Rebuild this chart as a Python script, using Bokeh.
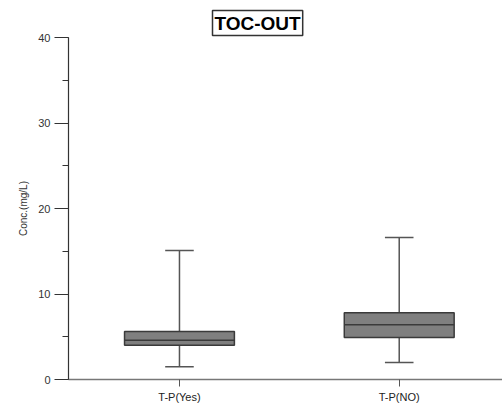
from bokeh.plotting import figure
from bokeh.models import Range1d, FixedTicker, SingleIntervalTicker
from bokeh.embed import file_html
from bokeh.resources import INLINE

categories = ["T-P(Yes)", "T-P(NO)"]
positions = [1, 2]
whisker_low = [1.5, 2.0]
q1 = [4.0, 4.9]
median = [4.6, 6.4]
q3 = [5.6, 7.8]
whisker_high = [15.1, 16.6]

box_w = 0.5
cap_w = 0.13

p = figure(width=502, height=405, output_backend="svg", toolbar_location=None,
           x_range=Range1d(0.495, 2.47), y_range=Range1d(0, 40),
           min_border_left=68, min_border_right=0, min_border_top=37, min_border_bottom=25)
p.xgrid.visible = False
p.ygrid.visible = False
p.outline_line_color = None
p.background_fill_color = "white"

p.title.text = "TOC-OUT"
p.title.align = "left"
p.title.offset = 144
p.title.text_font = "Liberation Sans"
p.title.text_font_style = "bold"
p.title.text_font_size = "19px"
p.title.text_color = "black"
p.title.border_line_color = "#333333"
p.title.border_line_width = 1.5
p.title.padding = 2
p.title.standoff = 4

# whiskers
p.segment(x0=positions, y0=q3, x1=positions, y1=whisker_high, line_color="#555555", line_width=1.5)
p.segment(x0=positions, y0=whisker_low, x1=positions, y1=q1, line_color="#555555", line_width=1.5)
# caps
p.segment(x0=[x - cap_w / 2 for x in positions], y0=whisker_high,
          x1=[x + cap_w / 2 for x in positions], y1=whisker_high, line_color="#555555", line_width=1.5)
p.segment(x0=[x - cap_w / 2 for x in positions], y0=whisker_low,
          x1=[x + cap_w / 2 for x in positions], y1=whisker_low, line_color="#555555", line_width=1.5)
# boxes
p.vbar(x=positions, width=box_w, bottom=q1, top=q3, fill_color="#7f7f7f",
       line_color="#3a3a3a", line_width=1.5)
# medians
p.segment(x0=[x - box_w / 2 for x in positions], y0=median,
          x1=[x + box_w / 2 for x in positions], y1=median, line_color="#3a3a3a", line_width=1.5)

# axes
p.xaxis.ticker = FixedTicker(ticks=positions)
p.xaxis.major_label_overrides = {pos: c for pos, c in zip(positions, categories)}
p.xaxis.minor_tick_line_color = None
p.xaxis.major_tick_in = 0
p.xaxis.major_tick_out = 7
p.xaxis.axis_line_color = "#777777"
p.xaxis.major_tick_line_color = "#555555"
p.xaxis.axis_line_width = 1.5
p.xaxis.major_label_text_font = "Liberation Sans"
p.xaxis.major_label_text_font_size = "11px"
p.xaxis.major_label_text_color = "#222222"
p.xaxis.major_label_standoff = 4

p.yaxis.ticker = SingleIntervalTicker(interval=10, num_minor_ticks=2)
p.yaxis.major_tick_in = 0
p.yaxis.major_tick_out = 14
p.yaxis.minor_tick_in = 0
p.yaxis.minor_tick_out = 6
p.yaxis.axis_line_color = "#333333"
p.yaxis.major_tick_line_color = "#333333"
p.yaxis.minor_tick_line_color = "#333333"
p.yaxis.axis_line_width = 1.2
p.yaxis.major_label_text_font = "Liberation Sans"
p.yaxis.major_label_text_font_size = "11px"
p.yaxis.major_label_text_color = "#333333"
p.yaxis.major_label_standoff = 4
p.yaxis.axis_label = "Conc.(mg/L)"
p.yaxis.axis_label_text_font = "Liberation Sans"
p.yaxis.axis_label_text_font_style = "normal"
p.yaxis.axis_label_text_font_size = "10px"
p.yaxis.axis_label_text_color = "#333333"
p.yaxis.axis_label_standoff = 6

open("out.html", "w").write(file_html(p, INLINE))
